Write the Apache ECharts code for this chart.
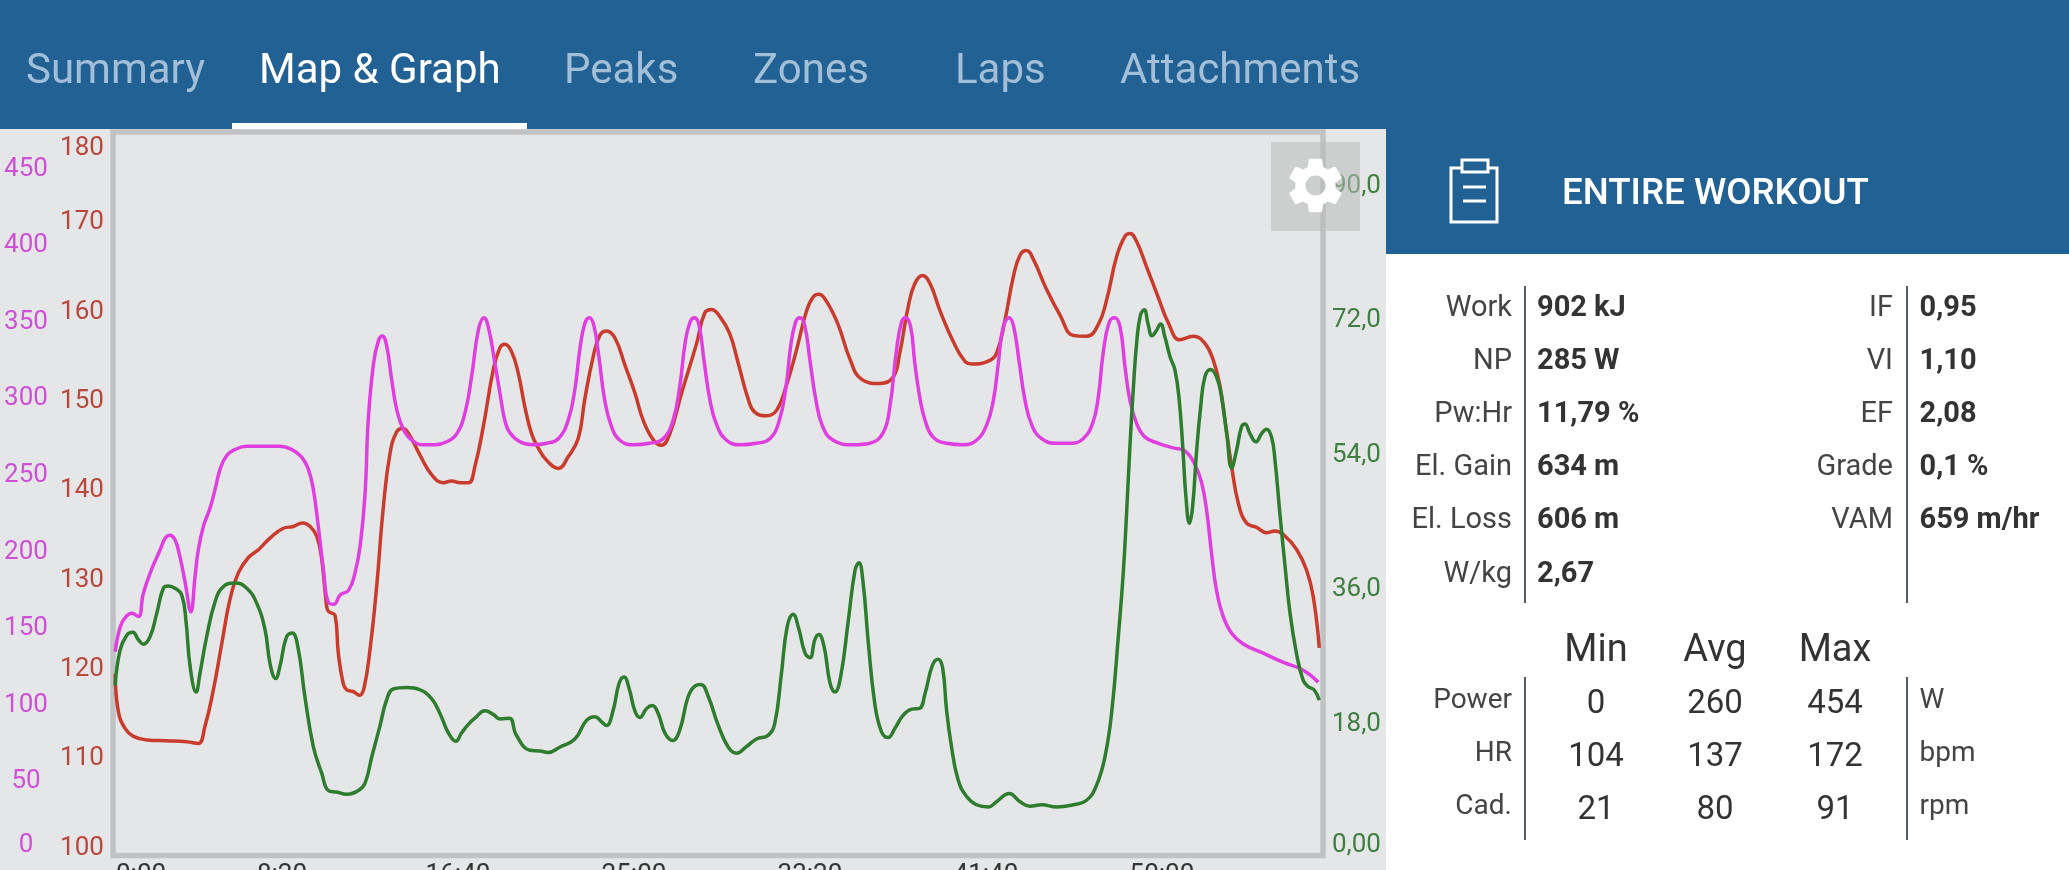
<!DOCTYPE html>
<html>
<head>
<meta charset="utf-8">
<title>Map & Graph</title>
<style>
  html, body { margin: 0; padding: 0; background: #e5e6e8; }
  #chart { width: 2069px; height: 870px; }
</style>
<script src="https://cdn.jsdelivr.net/npm/echarts@6/dist/echarts.min.js"></script>
</head>
<body>
<div id="chart"></div>
<script>
// [seconds, watts]
const powerData = [
  [26,135],[40,151],[54,157],[73,160],[92,158],[106,173],[130,189],[153,201],[168,209],[182,211],
  [196,208],[210,197],[225,180],[241,161],[253,184],[262,201],[277,217],[296,229],[310,241],[324,254],
  [343,263],[367,267],[400,269],[447,269],[494,269],[527,267],[556,262],[575,254],[589,241],[603,217],
  [617,190],[632,167],[648,166],[665,172],[689,175],[707,186],[722,204],[736,238],[745,286],[760,323],
  [774,338],[785,341],[797,335],[812,312],[826,293],[845,280],[869,273],[902,270],[935,270],[968,272],
  [996,277],[1020,291],[1039,315],[1058,345],[1074,353],[1088,345],[1105,323],[1119,304],[1133,286],[1147,278],
  [1176,272],[1214,270],[1252,271],[1285,274],[1313,286],[1332,306],[1346,332],[1360,349],[1373,353],[1386,348],
  [1400,328],[1417,299],[1436,282],[1460,273],[1498,270],[1545,271],[1583,274],[1611,286],[1630,308],[1645,336],
  [1659,350],[1672,353],[1685,348],[1699,325],[1716,299],[1735,283],[1763,273],[1801,270],[1848,271],[1886,274],
  [1913,286],[1932,308],[1945,334],[1959,350],[1971,353],[1985,348],[2000,325],[2017,299],[2036,282],[2066,273],
  [2123,270],[2170,271],[2208,278],[2227,295],[2246,332],[2260,350],[2272,353],[2286,347],[2298,323],[2312,301],
  [2327,286],[2350,275],[2388,271],[2436,270],[2473,273],[2502,283],[2521,299],[2535,323],[2549,347],[2566,353],
  [2579,347],[2595,323],[2611,299],[2630,283],[2658,274],[2701,271],[2743,271],[2776,274],[2803,284],[2819,301],
  [2833,330],[2850,350],[2866,353],[2881,347],[2895,321],[2909,299],[2928,284],[2952,275],[2990,271],[3032,268],
  [3065,266],[3094,257],[3113,245],[3127,227],[3141,199],[3155,175],[3174,158],[3198,147],[3231,140],[3288,134],
  [3345,128],[3392,124],[3420,120],[3444,115]
];

// [seconds, bpm]
const heartRateData = [
  [26,119.5],[35,115.3],[54,113.4],[78,112.5],[116,112.1],[172,112],[229,111.9],[262,111.7],[281,113.6],[305,117.7],
  [329,122.9],[352,127.8],[376,130.8],[404,132.5],[433,133.4],[466,134.7],[504,135.8],[532,136],[559,136.4],[580,136],
  [599,134.9],[613,132.3],[627,127],[632,126.5],[651,126],[660,121.8],[674,118.4],[684,117.7],[703,117.5],[720,117.1],
  [733,117.9],[750,122.2],[769,129.3],[788,138.2],[807,144.2],[826,146.6],[843,147],[864,146.1],[892,144],[925,141.8],
  [958,140.9],[982,141.1],[1006,140.9],[1030,140.9],[1048,142.7],[1072,147.2],[1100,153.5],[1119,156],[1133,156.4],[1152,155.6],
  [1171,153.2],[1190,149.4],[1209,146.4],[1228,144.8],[1252,143.4],[1285,142.5],[1313,143.8],[1342,145.9],[1360,150.2],[1384,155],
  [1403,157.4],[1422,157.9],[1446,157.1],[1474,154.1],[1503,150.9],[1526,147.9],[1555,145.7],[1578,145.1],[1602,146.4],[1635,150.9],
  [1678,156.5],[1701,159.9],[1720,160.3],[1744,159.5],[1772,157.6],[1796,154.3],[1825,150.2],[1843,148.8],[1877,148.4],[1905,149],
  [1933,151.8],[1962,155.8],[1990,160.1],[2009,161.7],[2025,162],[2047,161.2],[2080,158.6],[2113,154.8],[2146,152.5],[2199,152],
  [2236,152.7],[2255,155.4],[2279,160.6],[2298,163.2],[2320,164.1],[2341,163.2],[2369,160.2],[2407,156.7],[2440,154.5],[2459,154.2],
  [2511,154.6],[2532,155.6],[2554,159.1],[2578,164],[2597,166.4],[2615,166.9],[2636,165.8],[2668,162.9],[2710,159.7],[2748,157.4],
  [2786,157.3],[2819,158.6],[2843,161.4],[2871,166.2],[2895,168.5],[2909,168.8],[2928,167.9],[2956,165.1],[2990,161.6],[3018,158.8],
  [3051,156.9],[3089,157.3],[3122,156.5],[3146,154.6],[3165,151.7],[3179,147.9],[3198,142.7],[3217,138.6],[3240,136.4],[3269,135.9],
  [3297,135.3],[3321,135.5],[3345,135.1],[3383,133.4],[3411,131.1],[3430,128.1],[3447,122.4]
];

// [seconds, rpm]
const cadenceData = [
  [26,23.2],[40,27.9],[59,29.9],[76,30.3],[92,29.3],[106,28.7],[125,29.7],[144,32.8],[163,36.2],[177,36.5],
  [196,36.2],[215,35.3],[227,31.9],[239,25.7],[256,22.3],[267,24.8],[286,29.7],[310,34.4],[333,36.4],[367,36.9],
  [400,36.2],[428,34.2],[452,30.6],[466,26.1],[482,24.1],[494,25.7],[513,29.7],[529,30.2],[546,28.1],[565,21.7],
  [589,15],[613,11.4],[632,9.1],[655,8.9],[684,8.6],[717,9.1],[736,10.1],[755,13.6],[778,17.7],[797,21.2],
  [816,22.7],[854,22.9],[892,22.6],[925,21.4],[949,19.4],[973,16.8],[994,15.7],[1010,16.8],[1030,18],[1048,18.8],
  [1077,19.8],[1100,19.3],[1119,18.7],[1146,18.8],[1166,16.5],[1204,14.5],[1233,14.4],[1256,14.2],[1289,14.9],[1332,16],
  [1365,18.5],[1389,19],[1408,18.3],[1422,17.8],[1441,19.9],[1458,23.5],[1472,24.3],[1486,22.8],[1503,19.7],[1517,18.9],
  [1536,20.1],[1552,20.5],[1569,19.4],[1588,16.8],[1610,15.8],[1630,17.2],[1654,21.7],[1673,23.1],[1690,23.3],[1711,21.7],
  [1739,17.9],[1768,14.9],[1791,14.1],[1820,15],[1848,16],[1881,16.5],[1900,18.1],[1919,24.8],[1935,31],[1952,32.7],
  [1968,30.8],[1986,27.5],[2000,26.9],[2014,29.3],[2025,30],[2040,28.4],[2057,23.5],[2071,22.3],[2087,24.3],[2109,31.9],
  [2128,38.6],[2139,39.6],[2151,36.9],[2165,29.3],[2184,20.8],[2203,17],[2222,16.2],[2241,17.4],[2265,19.2],[2289,20],
  [2311,20.1],[2327,22.1],[2348,25.9],[2364,26.7],[2377,25.5],[2388,19.9],[2402,15],[2421,10.5],[2445,8.3],[2473,7.2],
  [2507,6.9],[2530,7.6],[2566,8.7],[2597,7.6],[2625,7],[2658,7.2],[2701,6.9],[2748,7.2],[2786,7.8],[2814,9.8],
  [2838,13.6],[2857,19.5],[2876,29.7],[2890,38.2],[2900,46.7],[2909,55.2],[2919,63.2],[2928,69],[2939,72.8],[2950,73.5],
  [2960,71.7],[2972,70],[2983,70.6],[2996,71.6],[3008,69.9],[3023,67.2],[3037,65.4],[3049,61.4],[3059,55.2],[3068,48.5],
  [3078,44.9],[3087,47.1],[3098,54.3],[3110,60.5],[3122,64.5],[3138,65.5],[3155,64.5],[3169,61.9],[3184,56.9],[3198,52.3],
  [3212,54.7],[3226,57.8],[3236,58.2],[3250,56.9],[3267,55.8],[3283,56.9],[3297,57.5],[3311,56.5],[3321,53.4],[3335,46.2],
  [3349,39.5],[3364,32.8],[3382,27.5],[3401,23.9],[3416,23],[3432,22.6],[3447,21.2]
];

const tabNames = ['Summary', 'Map & Graph', 'Peaks', 'Zones', 'Laps', 'Attachments'];
const tabLefts = [26, 259, 564, 753, 955, 1120];

const statsLeftLabels = ['Work', 'NP', 'Pw:Hr', 'El. Gain', 'El. Loss', 'W/kg'];
const statsLeftValues = ['902 kJ', '285 W', '11,79 %', '634 m', '606 m', '2,67'];
const statsRightLabels = ['IF', 'VI', 'EF', 'Grade', 'VAM'];
const statsRightValues = ['0,95', '1,10', '2,08', '0,1 %', '659 m/hr'];

const rangeHeaders = ['Min', 'Avg', 'Max'];
const rangeLabels = ['Power', 'HR', 'Cad.'];
const rangeUnits = ['W', 'bpm', 'rpm'];
const rangeValues = [
  [0, 260, 454],
  [104, 137, 172],
  [21, 80, 91]
];

const BLUE = '#226193';
const FONT = 'Roboto';
const gearPath = 'M19.14 12.94c.04-.3.06-.61.06-.94 0-.32-.02-.64-.07-.94l2.03-1.58c.18-.14.23-.41.12-.61l-1.92-3.32c-.12-.22-.37-.29-.59-.22l-2.39.96c-.5-.38-1.03-.7-1.62-.94l-.36-2.54c-.04-.24-.24-.41-.48-.41h-3.84c-.24 0-.43.17-.47.41l-.36 2.54c-.59.24-1.13.57-1.62.94l-2.39-.96c-.22-.08-.47 0-.59.22L2.74 8.87c-.12.21-.08.47.12.61l2.03 1.58c-.05.3-.09.63-.09.94s.02.64.07.94l-2.03 1.58c-.18.14-.23.41-.12.61l1.92 3.32c.12.22.37.29.59.22l2.39-.96c.5.38 1.03.7 1.62.94l.36 2.54c.05.24.24.41.48.41h3.84c.24 0 .44-.17.47-.41l.36-2.54c.59-.24 1.13-.56 1.62-.94l2.39.96c.22.08.47 0 .59-.22l1.92-3.32c.12-.22.07-.47-.12-.61l-2.01-1.58zM12 15.6c-1.98 0-3.6-1.62-3.6-3.6s1.62-3.6 3.6-3.6 3.6 1.62 3.6 3.6-1.62 3.6-3.6 3.6z';

// the graphic component has no plain path type, so register the gear as a shape
echarts.graphic.registerShape('gear', echarts.graphic.extendPath(gearPath, {}));

function text(x, y, str, size, color, align, weight) {
  return {
    type: 'text', x, y, z: 20,
    style: {
      text: String(str), fontFamily: FONT, fontSize: size, fill: color,
      align: align || 'left', verticalAlign: 'middle', fontWeight: weight || 'normal'
    }
  };
}

function rect(x, y, width, height, fill, z) {
  return {type: 'rect', z: z || 1, shape: {x, y, width, height}, style: {fill}};
}

function vline(x, y1, y2) {
  return {type: 'line', z: 20, shape: {x1: x, y1, x2: x, y2}, style: {stroke: '#555a5e', lineWidth: 2}};
}

function buildGraphic() {
  const items = [];
  // top bar + tabs
  items.push(rect(0, 0, 2069, 129, BLUE));
  tabNames.forEach((name, i) => {
    items.push(text(tabLefts[i], 72, name, 42, i === 1 ? '#ffffff' : '#a3bfd8'));
  });
  items.push(rect(232, 123, 295, 6, '#ffffff', 5));

  // plot frame
  items.push({
    type: 'rect', z: 2, shape: {x: 113, y: 132, width: 1210, height: 723.5},
    style: {fill: 'none', stroke: '#c1c2c4', lineWidth: 5.5}
  });

  // settings button
  items.push(rect(1271, 142, 89, 89, 'rgba(186,187,186,0.55)', 30));
  items.push({type: 'gear', z: 31, x: 1282, y: 152, scaleX: 2.79, scaleY: 2.79, style: {fill: '#ffffff'}});

  // right panel
  items.push(rect(1386, 129, 683, 741, '#ffffff', 3));
  items.push(rect(1386, 129, 683, 125, BLUE, 4));
  items.push({
    type: 'rect', z: 20, shape: {x: 1451, y: 168, width: 46, height: 54},
    style: {fill: 'none', stroke: '#ffffff', lineWidth: 3}
  });
  items.push({
    type: 'rect', z: 21, shape: {x: 1462, y: 160, width: 26, height: 12},
    style: {fill: BLUE, stroke: '#ffffff', lineWidth: 3}
  });
  items.push({type: 'line', z: 21, shape: {x1: 1463, y1: 187, x2: 1486, y2: 187}, style: {stroke: '#ffffff', lineWidth: 3}});
  items.push({type: 'line', z: 21, shape: {x1: 1463, y1: 201, x2: 1486, y2: 201}, style: {stroke: '#ffffff', lineWidth: 3}});
  items.push(text(1562, 195, 'ENTIRE WORKOUT', 36.7, '#ffffff', 'left', 500));

  const rowYs = [309, 362, 415, 468, 521, 574.5];
  statsLeftLabels.forEach((s, i) => {
    items.push(text(1512, rowYs[i], s, 29, '#444444', 'right'));
    items.push(text(1537, rowYs[i], statsLeftValues[i], 29, '#333333', 'left', 'bold'));
  });
  statsRightLabels.forEach((s, i) => {
    items.push(text(1893, rowYs[i], s, 29, '#444444', 'right'));
    items.push(text(1919.5, rowYs[i], statsRightValues[i], 29, '#333333', 'left', 'bold'));
  });
  items.push(vline(1525, 286, 603), vline(1907, 286, 603));

  const colXs = [1596, 1715, 1835];
  rangeHeaders.forEach((s, i) => items.push(text(colXs[i], 651, s, 38, '#333333', 'center')));
  const labelYs = [701, 754, 807];
  const numYs = [704.5, 757.5, 810.5];
  rangeLabels.forEach((s, i) => {
    items.push(text(1512, labelYs[i], s, 28, '#444444', 'right'));
    items.push(text(1919.5, labelYs[i], rangeUnits[i], 28, '#444444', 'left'));
    rangeValues[i].forEach((v, j) => items.push(text(colXs[j], numYs[i], v, 33, '#333333', 'center')));
  });
  items.push(vline(1525, 677, 840), vline(1907, 677, 840));
  return items;
}

function timeLabel(sec) {
  const m = Math.floor(sec / 60);
  const s = sec % 60;
  return m + ':' + (s < 10 ? '0' : '') + s;
}

const xMax = 3449;
const chart = echarts.init(document.getElementById('chart'), null, {renderer: 'canvas'});
chart.setOption({
  animation: false,
  backgroundColor: '#e5e6e8',
  textStyle: {fontFamily: FONT},
  graphic: buildGraphic(),
  grid: [
    // the time labels run off the bottom of the picture, so no outer bounds here
    {left: 106, top: 133.5, width: 1214, height: 725, outerBoundsMode: 'none'},
    {left: 106, top: 133.5, width: 1214, height: 714.5, outerBoundsMode: 'none'}
  ],
  xAxis: [
    {
      type: 'value', gridIndex: 0, min: 0, max: xMax, interval: 500,
      axisLine: {show: false}, axisTick: {show: false}, splitLine: {show: false},
      axisLabel: {
        color: '#333333', fontSize: 26, fontFamily: FONT, margin: 4,
        showMaxLabel: false, alignMinLabel: 'left',
        formatter: v => v === 0 ? '{first|0:00}' : timeLabel(v),
        rich: {first: {color: '#333333', fontSize: 26, fontFamily: FONT, padding: [0, 0, 0, 10]}}
      }
    },
    {type: 'value', gridIndex: 1, min: 0, max: xMax, show: false}
  ],
  yAxis: [
    {
      // power
      type: 'value', gridIndex: 0, position: 'left', min: 0, max: 473.2, interval: 50,
      axisLine: {show: false}, axisTick: {show: false}, splitLine: {show: false},
      axisLabel: {
        color: '#cf4fd6', fontSize: 26, fontFamily: FONT, margin: 80, align: 'center',
        padding: [4, 0, 0, 0], showMaxLabel: false, verticalAlignMinLabel: 'bottom'
      }
    },
    {
      // heart rate
      type: 'value', gridIndex: 1, position: 'left', min: 100, max: 180, interval: 10,
      axisLine: {show: false}, axisTick: {show: false}, splitLine: {show: false},
      axisLabel: {
        color: '#b9483c', fontSize: 26, fontFamily: FONT, margin: 24, align: 'center',
        padding: [2, 0, 0, 0], showMinLabel: true, showMaxLabel: true, verticalAlignMaxLabel: 'top'
      }
    },
    {
      // cadence
      type: 'value', gridIndex: 0, position: 'right', min: 0, max: 97.1, interval: 18,
      axisLine: {show: false}, axisTick: {show: false}, splitLine: {show: false},
      axisLabel: {
        color: '#3f7f3f', fontSize: 26, fontFamily: FONT, margin: 12, align: 'left',
        padding: [4, 0, 0, 0], showMaxLabel: false, verticalAlignMinLabel: 'bottom',
        formatter: v => v === 0 ? '0,00' : v.toFixed(1).replace('.', ',')
      }
    }
  ],
  series: [
    {
      name: 'HR', type: 'line', xAxisIndex: 1, yAxisIndex: 1, data: heartRateData,
      showSymbol: false, smooth: 0.45, z: 3, lineStyle: {color: '#c93b2c', width: 3.5}
    },
    {
      name: 'Power', type: 'line', xAxisIndex: 0, yAxisIndex: 0, data: powerData,
      showSymbol: false, smooth: 0.45, z: 4, lineStyle: {color: '#e03fe0', width: 3.5}
    },
    {
      name: 'Cad.', type: 'line', xAxisIndex: 0, yAxisIndex: 2, data: cadenceData,
      showSymbol: false, smooth: 0.45, z: 5, lineStyle: {color: '#2e7d2e', width: 3.5}
    }
  ]
});
</script>
</body>
</html>
